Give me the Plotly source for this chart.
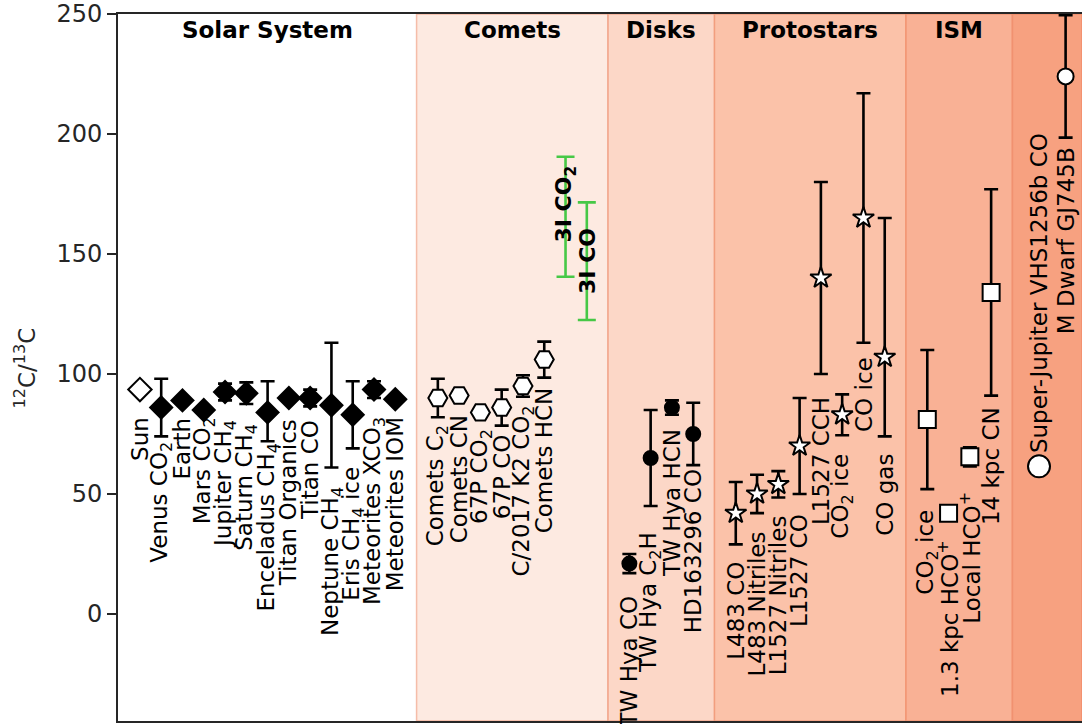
import plotly.graph_objects as go

NAN = float("nan")

# ---------------- data ----------------
solar_labels = ["Sun", "Venus CO<sub>2</sub>", "Earth", "Mars CO<sub>2</sub>", "Jupiter CH<sub>4</sub>",
                "Saturn CH<sub>4</sub>", "Enceladus CH<sub>4</sub>", "Titan Organics", "Titan CO",
                "Neptune CH<sub>4</sub>", "Eris CH<sub>4</sub> ice", "Meteorites XCO<sub>3</sub>", "Meteorites IOM"]
solar_x = [0, 1, 2, 3, 4, 5, 6, 7, 8, 9, 10, 11, 12]
solar_vals = [93.5, 86, 89, 85, 92.5, 92, 84, 90, 90, 87, 83, 93.5, 89.5]
solar_err_plus = [NAN, 12, NAN, NAN, 3.5, 4.5, 13, NAN, 3.5, 26, 14, 3.5, NAN]
solar_err_minus = [NAN, 12, NAN, NAN, 3.5, 4.5, 12, NAN, 3.5, 26, 14, 3.5, NAN]
solar_label_y = [82.9, 72.5, 82.9, 82.9, 81.7, 80.0, 71.7, 82.1, 81.7, 53.7, 62.1, 82.9, 82.9]

comet_labels = ["Comets C<sub>2</sub>", "Comets CN", "67P CO<sub>2</sub>", "67P CO",
                "C/2017 K2 CO<sub>2</sub>", "Comets HCN"]
comet_x = [14, 15, 16, 17, 18, 19]
comet_vals = [90, 91, 84, 86, 95, 106]
comet_err = [8, NAN, NAN, 7.5, 4.5, 7.5]
comet_label_y = [79.6, 83.7, 77.9, 75.8, 87.9, 95.4]

iso_labels = ["3I CO<sub>2</sub>", "3I CO"]
iso_x = [20, 21]
iso_vals = [165.5, 147]
iso_err = [25, 24.5]
iso_label_y = [170.8, 147]

disk_labels = ["TW Hya CO", "TW Hya C<sub>2</sub>H", "TW Hya HCN", "HD163296 CO"]
disk_x = [23, 24, 25, 26]
disk_vals = [21, 65, 86, 75]
disk_err = [4, 20, 3, 13]
disk_label_y = [8.7, 35, 77.9, 61.2]

proto_labels = ["L483 CO", "L483 Nitriles", "L1527 Nitriles", "L1527 CO", "L1527 CCH",
                "CO<sub>2</sub> ice", "CO ice", "CO gas"]
proto_x = [28, 29, 30, 31, 32, 33, 34, 35]
proto_vals = [42, 50, 54, 70, 140, 83, 165, 107]
proto_err_plus = [13, 8, 5.5, 20, 40, 8.5, 52, 58]
proto_err_minus = [13, 8, 5.5, 20, 40, 8.5, 52, 33]
proto_label_y = [22.5, 35, 42.1, 42.5, 91.2, 67.5, 107.9, 67.5]

ism_labels = ["CO<sub>2</sub> ice", "1.3 kpc HCO<sup>+</sup>", "Local HCO<sup>+</sup>", "14 kpc CN"]
ism_x = [37, 38, 39, 40]
ism_vals = [81, 42, 65.5, 134]
ism_err = [29, NAN, 4, 43]
ism_label_y = [44.2, 31.7, 51.7, 87.1]

exo_labels = ["Super-Jupiter VHS1256b CO", "M Dwarf GJ745B"]
exo_x = [42.25, 43.5]
exo_vals = [61.5, 224]
exo_err = [NAN, 25.5]
exo_label_y = [66.2, 195.4]

region_names = ["Solar System", "Comets", "Disks", "Protostars", "ISM", ""]
region_edges = [-1.03, 13, 22, 27, 36, 41, 44.27]
region_colors = ["#ffffff", "#fdeae1", "#fcd7c7", "#fbc2a9", "#f9b195", "#f7a180"]

FONT = "DejaVu Sans"
fig = go.Figure()

# background regions
for i in range(len(region_names)):
    fig.add_shape(type="rect", xref="x", yref="paper", x0=region_edges[i], x1=region_edges[i + 1],
                  y0=0, y1=1, fillcolor=region_colors[i], layer="below",
                  line=dict(color="rgba(236,120,80,0.45)" if i > 0 else "rgba(0,0,0,0)", width=1.5))
    if region_names[i]:
        fig.add_annotation(x=(region_edges[i] + region_edges[i + 1]) / 2 if i > 0 else 6, y=243.3,
                           text="<b>" + region_names[i] + "</b>", showarrow=False,
                           font=dict(family=FONT, size=23, color="black"),
                           xanchor="center", yanchor="middle")


def add_group(xs, vals, ep, em, symbol, size, fill, color="black", errcolor="black", capw=7):
    idx = [i for i in range(len(xs)) if ep[i] == ep[i]]
    if idx:
        fig.add_trace(go.Scatter(
            x=[xs[i] for i in idx], y=[vals[i] for i in idx], mode="markers",
            marker=dict(size=1, color="rgba(0,0,0,0)"),
            error_y=dict(type="data", symmetric=False,
                         array=[ep[i] for i in idx], arrayminus=[em[i] for i in idx],
                         color=errcolor, thickness=2.6, width=capw),
            showlegend=False, hoverinfo="skip"))
    if symbol is not None:
        fig.add_trace(go.Scatter(
            x=xs, y=vals, mode="markers",
            marker=dict(symbol=symbol, size=size, color=fill, line=dict(color=color, width=2)),
            showlegend=False))


def add_labels(xs, labels, ys, anchor="top", bold=False, size=23):
    for x, t, y in zip(xs, labels, ys):
        fig.add_annotation(x=x, y=y, text=("<b>" + t + "</b>") if bold else t, textangle=-90,
                           showarrow=False, xanchor="center", yanchor=anchor,
                           font=dict(family=FONT, size=size, color="black"))


# Solar system
add_group(solar_x[:1], solar_vals[:1], solar_err_plus[:1], solar_err_minus[:1], "diamond", 18, "white")
add_group(solar_x[1:], solar_vals[1:], solar_err_plus[1:], solar_err_minus[1:], "diamond", 17, "black")
add_labels(solar_x, solar_labels, solar_label_y)

# Comets
add_group(comet_x, comet_vals, comet_err, comet_err, "hexagon2", 19, "white")
add_labels(comet_x, comet_labels, comet_label_y)

# 3I/ATLAS
add_group(iso_x, iso_vals, iso_err, iso_err, None, 0, "white", errcolor="#46c846", capw=9)
add_labels(iso_x, iso_labels, iso_label_y, anchor="middle", bold=True, size=22)

# Disks
add_group(disk_x, disk_vals, disk_err, disk_err, "circle", 14, "black")
add_labels(disk_x, disk_labels, disk_label_y)

# Protostars
add_group(proto_x, proto_vals, proto_err_plus, proto_err_minus, "star", 16, "white")
add_labels(proto_x, proto_labels, proto_label_y)

# ISM
add_group(ism_x, ism_vals, ism_err, ism_err, "square", 17, "white")
add_labels(ism_x, ism_labels, ism_label_y)

# Exoplanets / brown dwarfs
add_group(exo_x[:1], exo_vals[:1], exo_err[:1], exo_err[:1], "circle", 22, "white")
add_group(exo_x[1:], exo_vals[1:], exo_err[1:], exo_err[1:], "circle", 16, "white")
add_labels(exo_x[:1], exo_labels[:1], exo_label_y[:1], anchor="bottom")
add_labels(exo_x[1:], exo_labels[1:], exo_label_y[1:], anchor="top")

# y-axis title
fig.add_annotation(xref="paper", yref="paper", x=-0.0965, y=0.5,
                   text="<sup>12</sup>C/<sup>13</sup>C", textangle=-90, showarrow=False,
                   xanchor="center", yanchor="middle",
                   font=dict(family=FONT, size=23, color="#262626"))

fig.update_layout(
    width=1082, height=724,
    margin=dict(l=118, r=0, t=14, b=3),
    paper_bgcolor="white", plot_bgcolor="white",
    font=dict(family=FONT, color="#262626"),
    showlegend=False,
    xaxis=dict(range=[region_edges[0], region_edges[-1]], showticklabels=False, ticks="",
               showgrid=False, zeroline=False, showline=True, mirror=True,
               linecolor="#262626", linewidth=1.6),
    yaxis=dict(range=[-44.6, 250], tickvals=[0, 50, 100, 150, 200, 250], ticks="outside",
               ticklen=9, tickwidth=1.6, tickcolor="#262626", showgrid=False, zeroline=False,
               showline=True, linecolor="#262626", linewidth=1.6, ticklabeloverflow="allow",
               tickfont=dict(family=FONT, size=24, color="#262626")),
)

# remove the page's default body margin so the figure sits at the window's top-left corner
fig.write_html("out.html", config={"displayModeBar": False},
               post_script="document.body.style.margin='0';document.body.style.overflow='hidden';")
